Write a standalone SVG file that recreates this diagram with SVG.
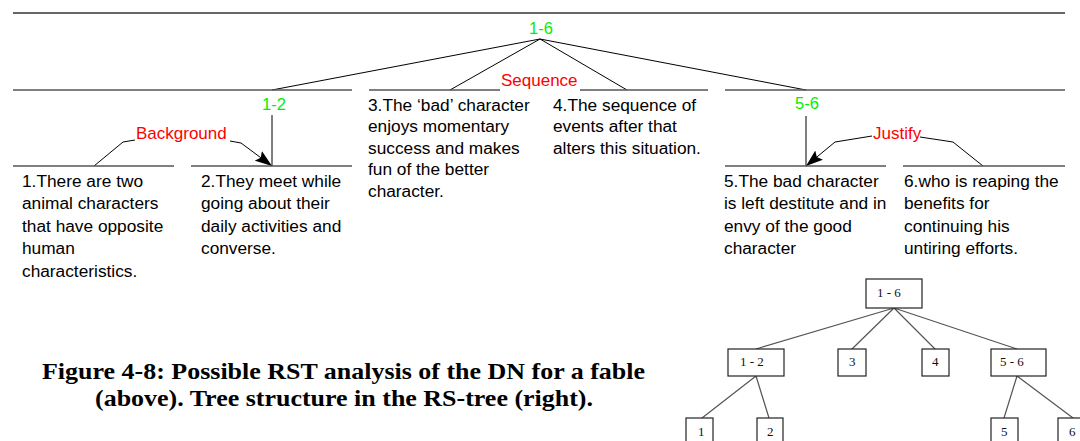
<svg xmlns="http://www.w3.org/2000/svg" width="1080" height="441" viewBox="0 0 1080 441">
<defs>
<style>
.hl{stroke:#555;stroke-width:1.5;fill:none}
.top{stroke:#333;stroke-width:1.5;fill:none}
.dl{stroke:#000;stroke-width:1;fill:none}
.tx{font-family:"Liberation Sans",Arial,sans-serif;font-size:17.3px;fill:#000}
.gr{font-family:"Liberation Sans",Arial,sans-serif;font-size:16.5px;fill:#00f000;text-anchor:middle}
.rd{font-family:"Liberation Sans",Arial,sans-serif;font-size:17px;fill:#ff0000}
.box{fill:#fff;stroke:#222;stroke-width:1.2}
.tl{stroke:#555;stroke-width:1.2;fill:none}
.bt{font-family:"Liberation Serif","Times New Roman",serif;font-size:13px;fill:#111}
.cap{font-family:"Liberation Serif","Times New Roman",serif;font-size:24px;font-weight:bold;fill:#000}
</style>
<marker id="arr" markerUnits="userSpaceOnUse" markerWidth="18" markerHeight="12" refX="17" refY="6" orient="auto">
<path d="M0,0 L17,6 L0,12 L3,6 Z" fill="#000"/>
</marker>
</defs>

<g id="connectors">
<line class="top" x1="13" y1="13" x2="1065" y2="13"/>
<path class="dl" d="M540,39 L272,90 M540,39 L450,90 M540,39 L627,90 M540,39 L806,90"/>
<path class="dl" d="M272,115 L272,166 M806,116 L806,166"/>
<path class="dl" d="M135,140 L123,142 L94,166"/>
<path class="dl" d="M230,141 L241,143 L272,166" marker-end="url(#arr)"/>
<path class="dl" d="M872,136 L835,142 L806,166" marker-end="url(#arr)"/>
<path class="dl" d="M920,137 L953,142 L983,166"/>
<g id="tree-edges">
<path class="tl" d="M894,308 L756,349 M894,308 L852,349 M894,308 L935,349 M894,308 L1017,349"/>
<path class="tl" d="M756,376 L702,418 M756,376 L769,418 M1017,376 L1004,418 M1017,376 L1073,418"/>
</g>
</g>

<g id="span-1-6">
<text class="gr" x="541" y="34">1-6</text>
<text class="rd" x="501" y="86">Sequence</text>
</g>

<g id="span-1-2">
<line class="hl" x1="13" y1="90" x2="352" y2="90"/>
<text class="gr" x="274" y="110">1-2</text>
<text class="rd" x="136" y="139">Background</text>
</g>

<g id="unit-1">
<line class="hl" x1="13" y1="166" x2="174" y2="166"/>
<text class="tx" x="22" y="187"><tspan x="22">1.There are two</tspan><tspan x="22" dy="22.4">animal characters</tspan><tspan x="22" dy="22.4">that have opposite</tspan><tspan x="22" dy="22.4">human</tspan><tspan x="22" dy="22.4">characteristics.</tspan></text>
</g>

<g id="unit-2">
<line class="hl" x1="191" y1="166" x2="352" y2="166"/>
<text class="tx" x="201" y="187"><tspan x="201">2.They meet while</tspan><tspan x="201" dy="22.4">going about their</tspan><tspan x="201" dy="22.4">daily activities and</tspan><tspan x="201" dy="22.4">converse.</tspan></text>
</g>

<g id="unit-3">
<line class="hl" x1="369" y1="90" x2="500" y2="90"/>
<text class="tx" x="368" y="110.5"><tspan x="368">3.The ‘bad’ character</tspan><tspan x="368" dy="21.6">enjoys momentary</tspan><tspan x="368" dy="21.6">success and makes</tspan><tspan x="368" dy="21.6">fun of the better</tspan><tspan x="368" dy="21.6">character.</tspan></text>
</g>

<g id="unit-4">
<line class="hl" x1="580" y1="90" x2="708" y2="90"/>
<text class="tx" x="553" y="110.5"><tspan x="553">4.The sequence of</tspan><tspan x="553" dy="21.6">events after that</tspan><tspan x="553" dy="21.6">alters this situation.</tspan></text>
</g>

<g id="span-5-6">
<line class="hl" x1="725" y1="90" x2="1065" y2="90"/>
<text class="gr" x="807" y="109">5-6</text>
<text class="rd" x="873" y="139">Justify</text>
</g>

<g id="unit-5">
<line class="hl" x1="725" y1="166" x2="886" y2="166"/>
<text class="tx" x="724" y="187"><tspan x="724">5.The bad character</tspan><tspan x="724" dy="22.4">is left destitute and in</tspan><tspan x="724" dy="22.4">envy of the good</tspan><tspan x="724" dy="22.4">character</tspan></text>
</g>

<g id="unit-6">
<line class="hl" x1="903" y1="166" x2="1065" y2="166"/>
<text class="tx" x="904" y="187"><tspan x="904">6.who is reaping the</tspan><tspan x="904" dy="22.4">benefits for</tspan><tspan x="904" dy="22.4">continuing his</tspan><tspan x="904" dy="22.4">untiring efforts.</tspan></text>
</g>

<g id="tree-1-6"><rect class="box" x="866" y="279" width="56" height="29"/><text class="bt" x="877" y="297">1 - 6</text></g>
<g id="tree-1-2"><rect class="box" x="728" y="349" width="56" height="27"/><text class="bt" x="740" y="366">1 - 2</text></g>
<g id="tree-3"><rect class="box" x="838" y="349" width="28" height="27"/><text class="bt" x="849" y="366">3</text></g>
<g id="tree-4"><rect class="box" x="922" y="349" width="27" height="27"/><text class="bt" x="932" y="366">4</text></g>
<g id="tree-5-6"><rect class="box" x="991" y="349" width="55" height="27"/><text class="bt" x="1000" y="366">5 - 6</text></g>
<g id="tree-1"><rect class="box" x="686" y="418" width="27" height="30"/><text class="bt" x="698" y="436">1</text></g>
<g id="tree-2"><rect class="box" x="757" y="418" width="26" height="30"/><text class="bt" x="767" y="436">2</text></g>
<g id="tree-5"><rect class="box" x="991" y="418" width="27" height="30"/><text class="bt" x="1001" y="436">5</text></g>
<g id="tree-6"><rect class="box" x="1058" y="418" width="27" height="30"/><text class="bt" x="1069" y="436">6</text></g>

<g id="caption">
<text class="cap" x="42" y="379" textLength="603" lengthAdjust="spacingAndGlyphs">Figure 4-8: Possible RST analysis of the DN for a fable</text>
<text class="cap" x="95" y="406" textLength="498" lengthAdjust="spacingAndGlyphs">(above). Tree structure in the RS-tree (right).</text>
</g>
</svg>
